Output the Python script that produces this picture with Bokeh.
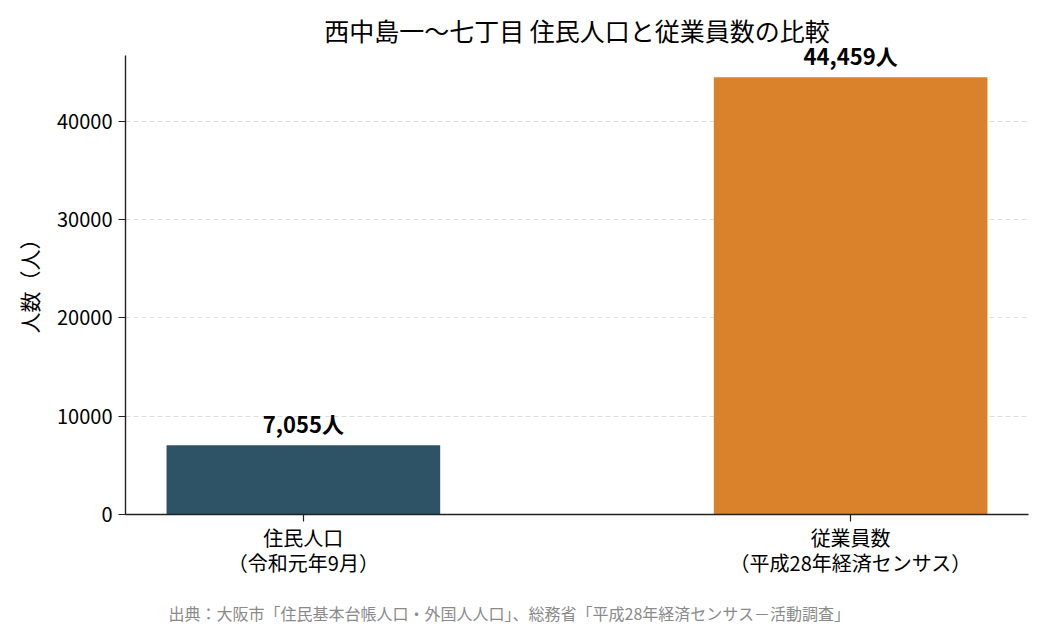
from bokeh.plotting import figure
from bokeh.models import Range1d, FixedTicker, Title, NumeralTickFormatter, Label
from bokeh.embed import file_html
from bokeh.resources import INLINE

categories = ["住民人口\n（令和元年9月）", "従業員数\n（平成28年経済センサス）"]
values = [7055, 44459]
labels = ["7,055人", "44,459人"]
colors = ["#2E5366", "#D9822B"]
yticks = [0, 10000, 20000, 30000, 40000]

FONT = "Noto Sans CJK JP"

y_top = max(values) * 1.05          # visible extent of the y axis
y_end = y_top * 1.0174              # a little headroom so the top label is not clipped

p = figure(width=1034, height=644, output_backend="svg", toolbar_location=None,
           x_range=Range1d(-0.325, 1.325), y_range=Range1d(0, y_end),
           min_border_left=125, min_border_right=6, min_border_top=47, min_border_bottom=130)
p.outline_line_color = None
p.background_fill_color = "white"
p.border_fill_color = "white"

xs = list(range(len(values)))
p.vbar(x=xs, top=values, width=0.5, color=colors, line_color=None)
for xi, vi, li in zip(xs, values, labels):
    p.add_layout(Label(x=xi, y=vi, text=li, text_align="center", text_baseline="bottom",
                       y_offset=6, text_font=FONT, text_font_size="22px",
                       text_font_style="bold", text_color="black"))

p.title.text = "西中島一〜七丁目 住民人口と従業員数の比較"
p.title.align = "center"
p.title.text_font = FONT
p.title.text_font_size = "25px"
p.title.text_font_style = "normal"
p.title.text_color = "black"
p.title.standoff = 0

p.xaxis.ticker = FixedTicker(ticks=xs)
p.xaxis.major_label_overrides = {i: c for i, c in zip(xs, categories)}
p.xaxis.major_label_text_line_height = 0.87
p.xaxis.major_label_standoff = 1
p.yaxis.ticker = FixedTicker(ticks=yticks)
p.yaxis.bounds = (0, y_top)
p.yaxis.formatter = NumeralTickFormatter(format="0")
p.yaxis.major_label_standoff = 6
p.yaxis.axis_label = "人数（人）"
p.yaxis.axis_label_text_font = FONT
p.yaxis.axis_label_text_font_size = "21px"
p.yaxis.axis_label_text_font_style = "normal"
p.yaxis.axis_label_text_color = "black"
p.yaxis.axis_label_standoff = 10

for ax in (p.xaxis, p.yaxis):
    ax.major_label_text_font = FONT
    ax.major_label_text_font_size = "20px"
    ax.major_label_text_color = "black"
    ax.axis_line_color = "#222222"
    ax.axis_line_width = 1.4
    ax.major_tick_line_color = "#222222"
    ax.major_tick_line_width = 1.2
    ax.major_tick_out = 7
    ax.major_tick_in = 0
    ax.minor_tick_line_color = None

p.xgrid.grid_line_color = None
p.ygrid.grid_line_color = "#dddddd"
p.ygrid.grid_line_dash = "5 3"
p.ygrid.grid_line_width = 1

src_title = Title(text="出典：大阪市「住民基本台帳人口・外国人人口」、総務省「平成28年経済センサス－活動調査」",
                  align="left", offset=43, text_font=FONT, text_font_size="16px",
                  text_font_style="normal", text_color="#8a8a8a", standoff=39)
p.add_layout(src_title, "below")

open("out.html", "w").write(file_html(p, INLINE))
